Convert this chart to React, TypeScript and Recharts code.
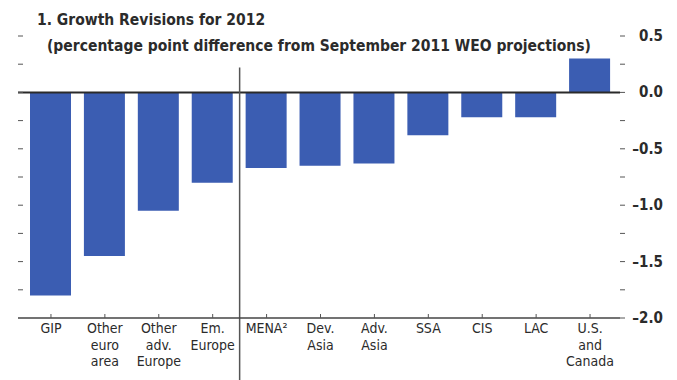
import React from 'react';
import { BarChart, Bar, XAxis, YAxis, ReferenceLine } from 'recharts';

// Growth revisions for 2012, percentage points vs. September 2011 WEO
const categories = [
  'GIP',
  'Other\neuro\narea',
  'Other\nadv.\nEurope',
  'Em.\nEurope',
  'MENA²',
  'Dev.\nAsia',
  'Adv.\nAsia',
  'SSA',
  'CIS',
  'LAC',
  'U.S.\nand\nCanada',
];
const revisions = [-1.8, -1.45, -1.05, -0.8, -0.67, -0.65, -0.63, -0.38, -0.22, -0.22, 0.3];
const yTicks = [0.5, 0.25, 0, -0.25, -0.5, -0.75, -1, -1.25, -1.5, -1.75, -2];
const labelledTicks = [0.5, 0, -0.5, -1, -1.5, -2];
// separator sits between the European groups and the rest
const separatorAfter = 4;

const data = categories.map((name, i) => ({ name, value: revisions[i], slot: i + 0.5 }));

const FONT = "'Liberation Sans Narrow', 'DejaVu Sans Condensed', Arial, sans-serif";
const INK = '#2b2b2b';

const CategoryTick = (props: any) => {
  const { x, y, payload } = props;
  const lines = String(payload.value).split('\n');
  return (
    <g>
      <line x1={x} x2={x} y1={y - 2} y2={y - 6} stroke="#555" strokeWidth={1} />
      <text x={x} y={y} textAnchor="middle" fill={INK} fontFamily={FONT} fontSize={14}>
        {lines.map((l, i) => (
          <tspan key={i} x={x} dy={i === 0 ? 13 : 16.5}>{l}</tspan>
        ))}
      </text>
    </g>
  );
};

const ValueTick = (props: any) => {
  const { x, y, payload } = props;
  const v = payload.value as number;
  if (!labelledTicks.includes(v)) return null;
  const txt = (v < 0 ? '–' : '') + Math.abs(v).toFixed(1);
  return (
    <text x={x + 36} y={y} dy={5} textAnchor="end" fill={INK} fontFamily={FONT} fontSize={15} fontWeight="bold">
      {txt}
    </text>
  );
};

// short inward dash on the left edge, no label
const LeftDash = (props: any) => {
  const { x, y } = props;
  return <line x1={x} x2={x + 5} y1={y} y2={y} stroke="#555" strokeWidth={1} />;
};

export default function App() {
  return (
    <div style={{ position: 'absolute', left: 0, top: 0, width: 677, height: 380, background: '#fff' }}>
      <div
        style={{
          position: 'absolute', left: 37, top: 7, fontFamily: FONT, fontWeight: 'bold',
          fontSize: 15.5, color: INK, lineHeight: '26px', whiteSpace: 'nowrap',
        }}
      >
        <div>1. Growth Revisions for 2012</div>
        <div style={{ paddingLeft: 10 }}>
          (percentage point difference from September 2011 WEO projections)
        </div>
      </div>
      <BarChart
        width={677}
        height={380}
        data={data}
        margin={{ top: 36, right: 0, bottom: 0, left: 8 }}
        barSize={41}
        style={{ position: 'absolute', left: 0, top: 0 }}
      >
        <XAxis
          dataKey="name"
          interval={0}
          height={62}
          padding={{ left: 6, right: 3 }}
          tickLine={false}
          tickSize={0}
          axisLine={{ stroke: '#444', strokeWidth: 1.5 }}
          tick={<CategoryTick />}
        />
        <XAxis
          xAxisId="sep"
          dataKey="slot"
          type="number"
          domain={[0, categories.length]}
          allowDataOverflow
          padding={{ left: 6, right: 3 }}
          hide
        />
        <YAxis
          yAxisId="l"
          orientation="left"
          type="number"
          width={10}
          domain={[-2, 0.5]}
          allowDataOverflow
          ticks={yTicks.slice(0, -1)}
          interval={0}
          tickLine={false}
          tickSize={0}
          tickMargin={0}
          axisLine={false}
          tick={<LeftDash />}
        />
        <YAxis
          orientation="right"
          width={57}
          domain={[-2, 0.5]}
          ticks={yTicks}
          interval={0}
          tickSize={5}
          tickLine={{ stroke: '#555' }}
          axisLine={false}
          tick={<ValueTick />}
        />
        <Bar dataKey="value" fill="#3b5db2" isAnimationActive={false} />
        <ReferenceLine yAxisId="l" y={0} stroke="#2a2a2a" strokeWidth={2} />
        <ReferenceLine
          xAxisId="sep"
          segment={[{ x: separatorAfter, y: 0.22 }, { x: separatorAfter, y: -2.55 }]}
          stroke="#555"
          strokeWidth={1.5}
          ifOverflow="visible"
        />
      </BarChart>
    </div>
  );
}
